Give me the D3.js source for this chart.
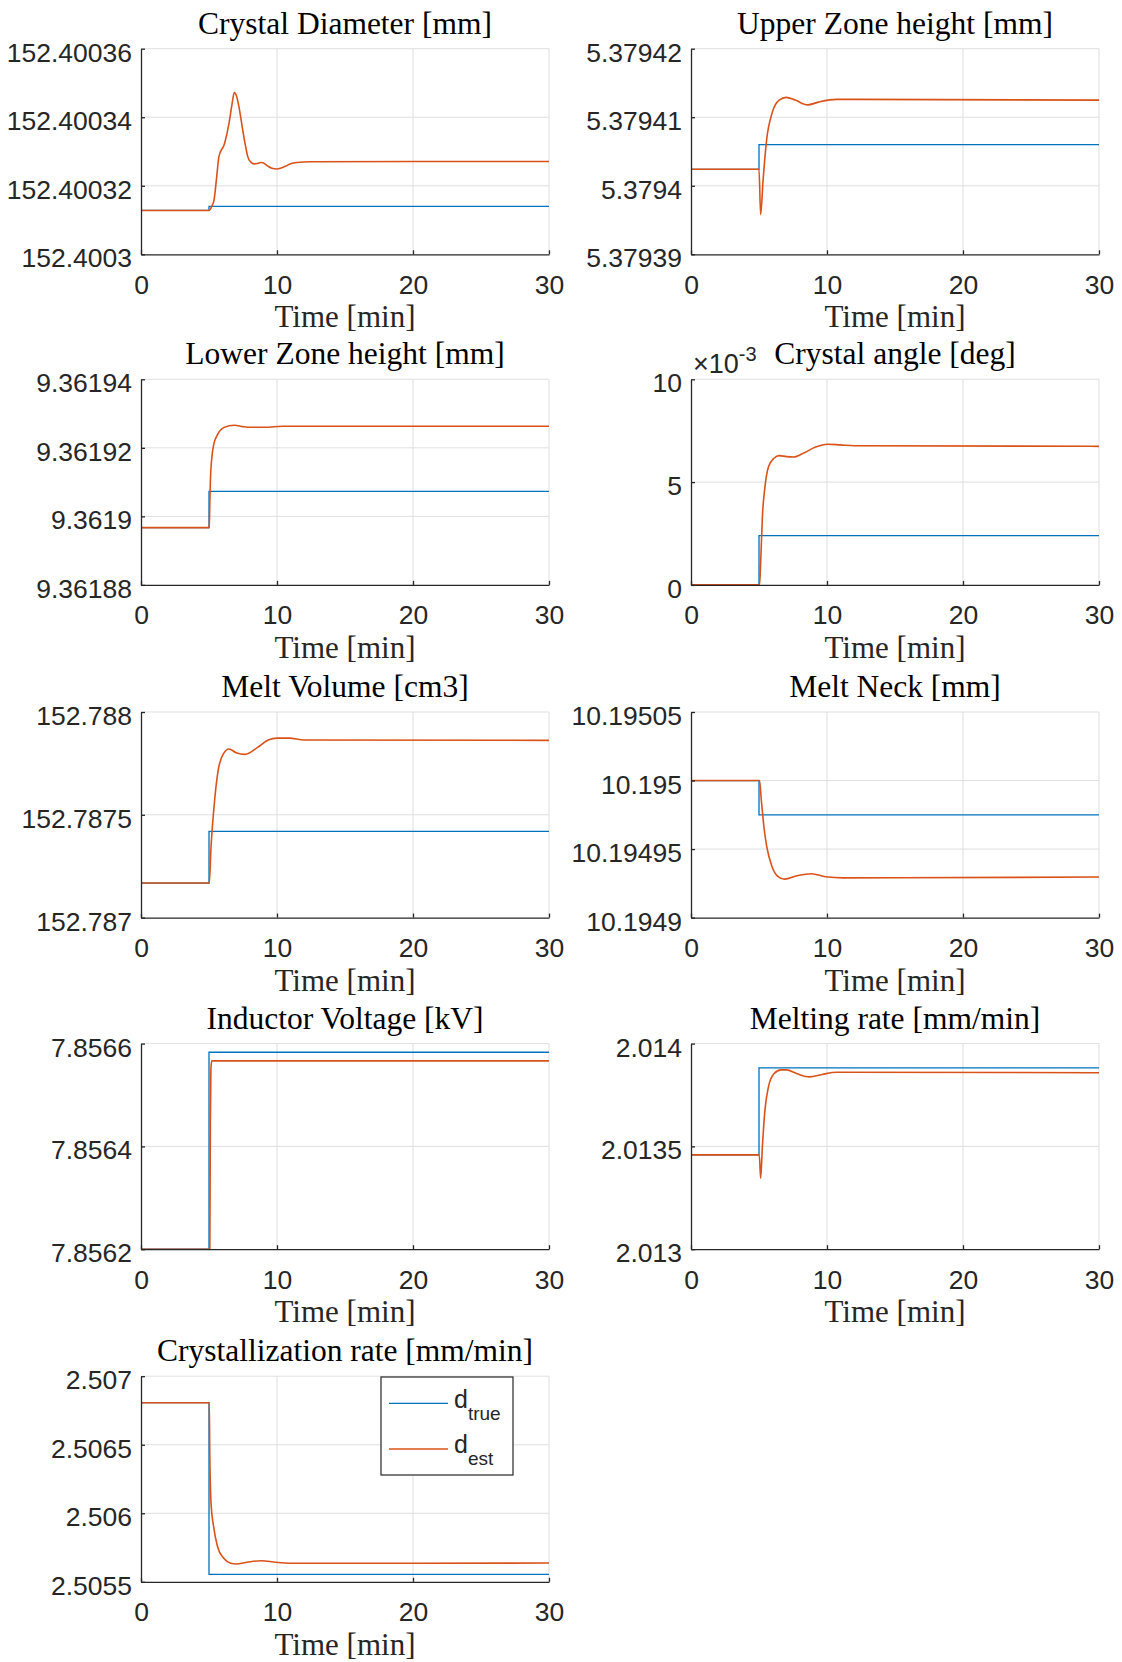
<!DOCTYPE html>
<html><head><meta charset="utf-8">
<script src="https://cdn.jsdelivr.net/npm/d3@7"></script>
<style>body{margin:0;background:#fff}</style>
</head><body><svg id="c" width="1122" height="1662" xmlns="http://www.w3.org/2000/svg"></svg>
<script>
// ---------- DATA ----------
const timeDomain = [0, 30];
const xTicks = [0, 10, 20, 30];
const xLabel = "Time [min]";
const seriesNames = ["true", "est"];

const titles = ["Crystal Diameter [mm]", "Upper Zone height [mm]", "Lower Zone height [mm]",
  "Crystal angle [deg]", "Melt Volume [cm3]", "Melt Neck [mm]", "Inductor Voltage [kV]",
  "Melting rate [mm/min]", "Crystallization rate [mm/min]"];

// 1 Crystal Diameter
const diamTicks = [152.4003, 152.40032, 152.40034, 152.40036];
const diamTickLabels = ["152.4003", "152.40032", "152.40034", "152.40036"];
const diamTrue = [[0,152.4003128],[5,152.4003128],[5,152.4003140],[30,152.4003140]];
const diamEst = [[0,152.4003128],[5.02,152.4003128],[5.2,152.400314],[5.37,152.4003158],[5.55,152.400322],
  [5.73,152.4003285],[6.15,152.4003324],[6.47,152.4003382],[6.7,152.400344],[6.86,152.4003472],[7.0,152.4003465],
  [7.2,152.4003431],[7.45,152.400337],[7.65,152.4003324],[7.85,152.4003285],[8.04,152.400327],[8.3,152.4003264],
  [8.57,152.4003265],[8.8,152.4003268],[8.97,152.4003267],[9.3,152.4003258],[9.62,152.4003251],[10.0,152.4003249],
  [10.3,152.4003252],[10.66,152.4003258],[11.0,152.4003264],[11.45,152.4003268],[12.5,152.400327],[30,152.4003271]];

// 2 Upper Zone height
const upperTicks = [5.37939, 5.3794, 5.37941, 5.37942];
const upperTickLabels = ["5.37939", "5.3794", "5.37941", "5.37942"];
const upperTrue = [[0,5.3794024],[5,5.3794024],[5,5.3794060],[30,5.3794060]];
const upperEst = [[0,5.3794024],[5.0,5.3794024],[5.12,5.3793958],[5.3,5.3794008],[5.56,5.3794067],
  [5.96,5.3794106],[6.48,5.3794125],[7.01,5.3794129],[7.66,5.3794125],[8.58,5.3794118],[9.37,5.3794122],
  [10.7,5.3794126],[12,5.3794126],[30,5.3794125]];

// 3 Lower Zone height
const lowerTicks = [9.36188, 9.3619, 9.36192, 9.36194];
const lowerTickLabels = ["9.36188", "9.3619", "9.36192", "9.36194"];
const lowerTrue = [[0,9.3618967],[5,9.3618967],[5,9.3619073],[30,9.3619073]];
const lowerEst = [[0,9.3618967],[5.02,9.3618967],[5.06,9.361904],[5.1,9.36191],[5.22,9.3619176],
  [5.35,9.361921],[5.57,9.3619234],[6.08,9.3619259],[6.86,9.3619266],[7.5,9.3619262],[8.04,9.361926],
  [9.1,9.361926],[10.4,9.3619263],[30,9.3619263]];

// 4 Crystal angle
const angleTicks = [0, 0.005, 0.01];
const angleTickLabels = ["0", "5", "10"];
const angleTrue = [[0,0],[5,0],[5,0.0024],[30,0.0024]];
const angleEst = [[0,0],[5.04,0],[5.12,0.00105],[5.25,0.00332],[5.44,0.00478],[5.7,0.00575],[6.1,0.00616],
  [6.49,0.00629],[7.02,0.00624],[7.54,0.00622],[8.33,0.00643],[9.12,0.00669],[10.04,0.00684],[10.96,0.00681],
  [12,0.00677],[30,0.00674]];

// 5 Melt Volume
const volTicks = [152.787, 152.7875, 152.788];
const volTickLabels = ["152.787", "152.7875", "152.788"];
const volTrue = [[0,152.787168],[5,152.787168],[5,152.7874194],[30,152.7874194]];
const volEst = [[0,152.787168],[5.02,152.787168],[5.15,152.7873445],[5.37,152.787539],[5.68,152.787718],
  [6.08,152.787799],[6.47,152.78782],[7.0,152.787802],[7.65,152.787794],[8.57,152.787828],[9.36,152.787864],
  [10.0,152.787873],[10.9,152.787873],[11.97,152.787864],[30,152.787862]];

// 6 Melt Neck
const neckTicks = [10.1949, 10.19495, 10.195, 10.19505];
const neckTickLabels = ["10.1949", "10.19495", "10.195", "10.19505"];
const neckTrue = [[0,10.195],[5,10.195],[5,10.194975],[30,10.194975]];
const neckEst = [[0,10.195],[5.04,10.195],[5.17,10.1949858],[5.36,10.1949663],[5.57,10.1949517],
  [5.96,10.1949371],[6.36,10.1949303],[6.88,10.1949281],[7.8,10.1949305],[8.85,10.194932],[9.9,10.1949298],
  [11.2,10.194929],[30,10.1949296]];

// 7 Inductor Voltage
const voltTicks = [7.8562, 7.8564, 7.8566];
const voltTickLabels = ["7.8562", "7.8564", "7.8566"];
const voltTrue = [[0,7.8562],[5,7.8562],[5,7.8565832],[30,7.8565832]];
const voltEst = [[0,7.8562],[5.06,7.8562],[5.1,7.85645],[5.14,7.85655],[5.2,7.8565663],[30,7.8565663]];

// 8 Melting rate
const meltTicks = [2.013, 2.0135, 2.014];
const meltTickLabels = ["2.013", "2.0135", "2.014"];
const meltTrue = [[0,2.013459],[5,2.013459],[5,2.013882],[30,2.013882]];
const meltEst = [[0,2.013459],[5.02,2.013459],[5.12,2.013345],[5.25,2.013501],[5.44,2.013679],[5.7,2.013791],
  [6.1,2.013853],[6.62,2.013872],[7.02,2.013872],[7.8,2.013853],[8.72,2.013838],[9.64,2.01385],[10.7,2.013861],
  [30,2.013858]];

// 9 Crystallization rate
const crysTicks = [2.5055, 2.506, 2.5065, 2.507];
const crysTickLabels = ["2.5055", "2.506", "2.5065", "2.507"];
const crysTrue = [[0,2.5068067],[5,2.5068067],[5,2.5055547],[30,2.5055547]];
const crysEst = [[0,2.5068067],[5.02,2.5068067],[5.06,2.50640],[5.08,2.5062917],[5.15,2.5060729],
  [5.34,2.505902],[5.63,2.505756],[6.08,2.5056715],[6.6,2.505635],[7.0,2.50563],[7.8,2.5056423],
  [8.85,2.505654],[9.9,2.5056423],[11.2,2.505635],[30,2.505637]];

// ---------- LAYOUT ----------
const colX = [141, 691];
const rowY = [48.7, 379.3, 712, 1043.6, 1376.2];
const W = 408, H = 205.6;
const BLUE = "#0072BD", ORANGE = "#D95319", AX = "#262626", GRID = "#DFDFDF";
const SANS = "'Liberation Sans', Arial, Helvetica, sans-serif";
const SERIF = "'Liberation Serif', 'Times New Roman', serif";

const panels = [
  {title: titles[0], ticks: diamTicks, labels: diamTickLabels, tr: diamTrue, es: diamEst},
  {title: titles[1], ticks: upperTicks, labels: upperTickLabels, tr: upperTrue, es: upperEst},
  {title: titles[2], ticks: lowerTicks, labels: lowerTickLabels, tr: lowerTrue, es: lowerEst},
  {title: titles[3], ticks: angleTicks, labels: angleTickLabels, tr: angleTrue, es: angleEst, exp: true},
  {title: titles[4], ticks: volTicks, labels: volTickLabels, tr: volTrue, es: volEst},
  {title: titles[5], ticks: neckTicks, labels: neckTickLabels, tr: neckTrue, es: neckEst},
  {title: titles[6], ticks: voltTicks, labels: voltTickLabels, tr: voltTrue, es: voltEst},
  {title: titles[7], ticks: meltTicks, labels: meltTickLabels, tr: meltTrue, es: meltEst},
  {title: titles[8], ticks: crysTicks, labels: crysTickLabels, tr: crysTrue, es: crysEst, legend: true}
];

const svg = d3.select("#c");

panels.forEach((p, i) => {
  const x0 = colX[i % 2], y0 = rowY[Math.floor(i / 2)];
  const g = svg.append("g").attr("transform", `translate(${x0},${y0})`);
  const x = d3.scaleLinear().domain(timeDomain).range([0, W]);
  const y = d3.scaleLinear().domain([p.ticks[0], p.ticks[p.ticks.length - 1]]).range([H, 0]);

  // grid
  g.append("g").selectAll("line.gx").data(xTicks.slice(1)).join("line")
    .attr("x1", d => x(d)).attr("x2", d => x(d)).attr("y1", 0).attr("y2", H)
    .attr("stroke", GRID).attr("stroke-width", 1);
  g.append("g").selectAll("line.gy").data(p.ticks.slice(1)).join("line")
    .attr("x1", 0).attr("x2", W).attr("y1", d => y(d)).attr("y2", d => y(d))
    .attr("stroke", GRID).attr("stroke-width", 1);

  // lines
  const lin = d3.line().x(d => x(d[0])).y(d => y(d[1]));
  const smooth = d3.line().x(d => x(d[0])).y(d => y(d[1])).curve(d3.curveMonotoneX);
  g.append("path").attr("d", lin(p.tr)).attr("fill", "none").attr("stroke", BLUE).attr("stroke-width", 1.3);
  g.append("path").attr("d", smooth(p.es)).attr("fill", "none").attr("stroke", ORANGE).attr("stroke-width", 1.6)
    .attr("stroke-linejoin", "round");

  // axes
  const ay = g.append("g").call(d3.axisLeft(y).tickValues(p.ticks).tickFormat((d, k) => p.labels[k])
    .tickSizeInner(-4).tickSizeOuter(0).tickPadding(10));
  const ax = g.append("g").attr("transform", `translate(0,${H})`)
    .call(d3.axisBottom(x).tickValues(xTicks).tickSizeInner(-4).tickSizeOuter(0).tickPadding(10));
  [ay, ax].forEach(a => {
    a.select(".domain").attr("stroke", AX).attr("stroke-width", 1.3);
    a.selectAll(".tick line").attr("stroke", AX).attr("stroke-width", 1.3);
    a.selectAll(".tick text").attr("fill", AX).style("font-family", SANS).style("font-size", "26.5px");
  });
  ay.selectAll(".tick text").attr("x", -9).attr("dy", null).attr("y", 12.5);
  ax.selectAll(".tick text").attr("dy", null).attr("y", 39.5);

  // title and x label
  g.append("text").attr("x", W / 2).attr("y", -15).attr("text-anchor", "middle")
    .style("font-family", SERIF).style("font-size", "31.5px").attr("fill", "#000").text(p.title);
  g.append("text").attr("x", W / 2).attr("y", H + 73).attr("text-anchor", "middle")
    .style("font-family", SERIF).style("font-size", "31px").attr("fill", AX).text(xLabel);

  if (p.exp) {
    const t = g.append("text").attr("x", 2).attr("y", -6).style("font-family", SANS)
      .style("font-size", "27px").attr("fill", AX);
    t.append("tspan").text("\u00D710");
    t.append("tspan").attr("dy", -12).style("font-size", "20px").text("-3");
  }

  if (p.legend) {
    const lg = g.append("g").attr("transform", `translate(${381 - x0},${1377 - y0})`);
    lg.append("rect").attr("x", 0).attr("y", 0).attr("width", 132).attr("height", 98)
      .attr("fill", "#fff").attr("stroke", AX).attr("stroke-width", 1.2);
    const cols = [BLUE, ORANGE];
    const ly = [26.3, 72];
    seriesNames.forEach((nm, k) => {
      lg.append("line").attr("x1", 8).attr("x2", 67).attr("y1", ly[k]).attr("y2", ly[k])
        .attr("stroke", cols[k]).attr("stroke-width", 1.3);
      const tx = lg.append("text").attr("x", 73).attr("y", ly[k] + 4.3).style("font-family", SANS)
        .style("font-size", "25px").attr("fill", AX);
      tx.append("tspan").text("d");
      tx.append("tspan").attr("dy", 12).style("font-size", "19px").text(nm);
    });
  }
});
</script>
</body></html>
